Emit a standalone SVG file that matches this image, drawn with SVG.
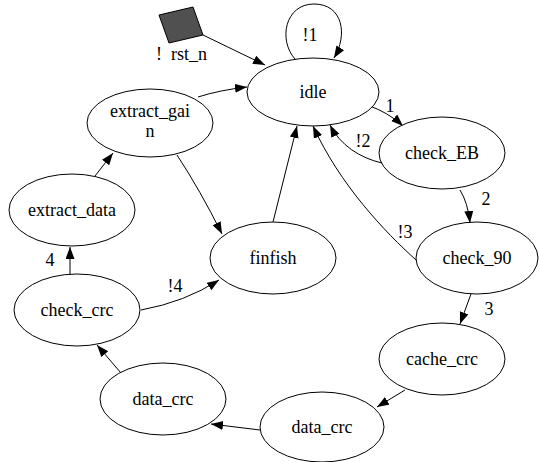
<svg xmlns="http://www.w3.org/2000/svg" width="539" height="462" viewBox="0 0 539 462" font-family="'Liberation Serif', 'Times New Roman', Times, 'DejaVu Serif', serif">
<defs>
<marker id="arr" markerUnits="userSpaceOnUse" markerWidth="13" markerHeight="10" refX="12" refY="4.5" orient="auto">
<path d="M0,0 L12,4.5 L0,9 z" fill="#000"/>
</marker>
<style>
ellipse{fill:#fff;stroke:#000;stroke-width:1}
text{font-family:'Liberation Serif','Times New Roman',Times,'DejaVu Serif',serif;font-size:18px;fill:#000}
.n text{text-anchor:middle}
.e path{fill:none;stroke:#000;stroke-width:1;marker-end:url(#arr)}
.lbl{text-anchor:middle}
</style>
</defs>
<rect width="539" height="462" fill="#fff"/>
<g class="e" id="edges">
<path d="M203,35 L265,65"/>
<path d="M295,59 C278,40 285,4 314,4 C343,4 348,35 334,58"/>
<path d="M198,97 Q220,90 247,87"/>
<path d="M367,105 Q388,112 403,126"/>
<path d="M382,163 C360,158 340,145 330,125"/>
<path d="M460,190 Q468,203 470,223"/>
<path d="M416,260 C385,232 340,185 313,126"/>
<path d="M471,294 L460,324"/>
<path d="M405,390 L377,407"/>
<path d="M260,430 L211,424"/>
<path d="M121,373 L97,345"/>
<path d="M70,275 L70,247"/>
<path d="M141,310 Q185,302 219,280"/>
<path d="M95,176 L113,153"/>
<path d="M177,155 Q200,190 222,234"/>
<path d="M273,222 L297,126"/>
<g id="edge-labels">
<text class="lbl" x="310" y="41">!1</text>
<text class="lbl" x="390" y="112">1</text>
<text class="lbl" x="363" y="147">!2</text>
<text class="lbl" x="486" y="205">2</text>
<text class="lbl" x="405" y="238">!3</text>
<text class="lbl" x="489" y="315">3</text>
<text class="lbl" x="50" y="266">4</text>
<text class="lbl" x="175" y="292">!4</text>
</g>
</g>
<g id="rst_n">
<polygon points="159,15 193,7 203,35 169,43" fill="#505050" stroke="#000" stroke-width="1"/>
<text x="156" y="60" xml:space="preserve">!  rst_n</text>
</g>
<g class="n" id="idle"><ellipse cx="313" cy="92" rx="66" ry="34"/><text x="313" y="98">idle</text></g>
<g class="n" id="check_EB"><ellipse cx="442" cy="153" rx="63" ry="36"/><text x="442" y="159">check_EB</text></g>
<g class="n" id="check_90"><ellipse cx="477" cy="258" rx="61" ry="36"/><text x="477" y="264">check_90</text></g>
<g class="n" id="cache_crc"><ellipse cx="442" cy="359" rx="63" ry="36"/><text x="442" y="365">cache_crc</text></g>
<g class="n" id="data_crc_r"><ellipse cx="322" cy="427" rx="62" ry="35"/><text x="322" y="433">data_crc</text></g>
<g class="n" id="data_crc_l"><ellipse cx="163" cy="399" rx="63" ry="36"/><text x="163" y="405">data_crc</text></g>
<g class="n" id="check_crc"><ellipse cx="77" cy="310" rx="63" ry="36"/><text x="77" y="316">check_crc</text></g>
<g class="n" id="extract_data"><ellipse cx="72" cy="210" rx="63" ry="36"/><text x="72" y="216">extract_data</text></g>
<g class="n" id="extract_gain"><ellipse cx="150" cy="123" rx="63" ry="34"/><text x="150" y="117">extract_gai</text><text x="150" y="137">n</text></g>
<g class="n" id="finfish"><ellipse cx="273" cy="258" rx="63" ry="36"/><text x="273" y="264">finfish</text></g>
</svg>
